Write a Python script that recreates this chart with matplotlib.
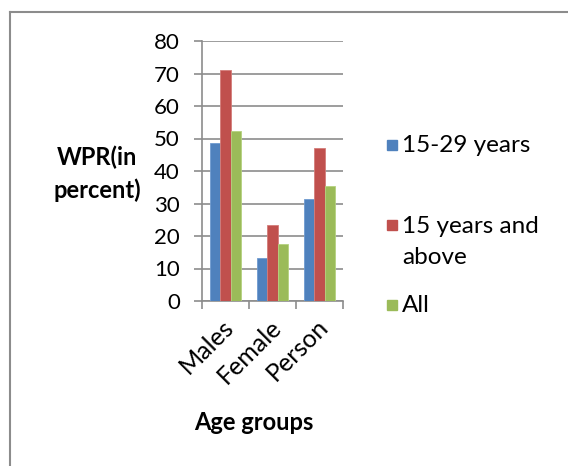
import matplotlib
matplotlib.use('Agg')
import matplotlib.pyplot as plt
import numpy as np
from matplotlib.patches import Rectangle
from matplotlib.lines import Line2D

plt.rcParams['font.family'] = ['Lato', 'DejaVu Sans']

# WPR values by age group
groups = ['Males', 'Female', 'Person']
series_names = ['15-29 years', '15 years and\nabove', 'All']
wpr_15_29 = [48.5, 13.3, 31.5]
wpr_15_above = [71.0, 23.3, 47.2]
wpr_all = [52.2, 17.6, 35.3]
yticks = [0, 10, 20, 30, 40, 50, 60, 70, 80]

colors = ['#4F81BD', '#C0504D', '#9BBB59']
edges = ['#6f9bd0', '#d47c79', '#b5d27f']

fig = plt.figure(figsize=(5.68, 4.66), dpi=100)
ax = fig.add_axes([202/568, 1 - 301/466, 141/568, 260/466])

x = np.arange(len(groups))
w = 0.222
for i, vals in enumerate([wpr_15_29, wpr_15_above, wpr_all]):
    ax.bar(x + (i - 1) * w, vals, width=w, color=colors[i],
           edgecolor=edges[i], linewidth=0.6, zorder=3)

ax.set_xlim(-0.5, 2.5)
ax.set_ylim(0, 80)
ax.set_yticks(yticks)
ax.set_yticklabels([str(t) for t in yticks], fontsize=16)
ax.yaxis.grid(True, color='#8c8c8c', linewidth=1.2)
ax.tick_params(axis='y', length=6, color='#8c8c8c', width=1.2, pad=10)

# category boundaries carry the tick marks
ax.set_xticks([-0.5, 0.5, 1.5, 2.5])
ax.set_xticklabels([])
ax.set_xticks(x + 0.1, minor=True)
ax.set_xticklabels(groups, minor=True, rotation=45, ha='right', va='center',
                   rotation_mode='anchor', fontsize=18)
ax.tick_params(axis='x', which='major', length=6, color='#8c8c8c', width=1.2)
ax.tick_params(axis='x', which='minor', length=0, pad=16)

for s in ['top', 'right']:
    ax.spines[s].set_visible(False)
for s in ['left', 'bottom']:
    ax.spines[s].set_color('#8c8c8c')
    ax.spines[s].set_linewidth(1.2)

fig.text(97/568, 1 - 174/466, 'WPR(in\npercent)', ha='center', va='center',
         fontsize=17, fontweight='bold', linespacing=1.5)
fig.text(254/568, 1 - 423/466, 'Age groups', ha='center', va='center',
         fontsize=17, fontweight='bold')

# legend drawn by hand so the swatch sits on the first text line
leg_y = [145, 225, 305]
for i, name in enumerate(series_names):
    yy = 1 - leg_y[i] / 466
    fig.add_artist(Rectangle((387/568, yy - 5/466), 10/568, 10/466,
                             transform=fig.transFigure, color=colors[i]))
    fig.text(402/568, yy + (9/466 if '\n' in name else 0), name, ha='left',
             va='top' if '\n' in name else 'center',
             fontsize=17.5, linespacing=1.6,
             transform=fig.transFigure)

# outer frame (left and top edges)
fig.add_artist(Line2D([10/568, 10/568], [0, 1 - 12/466], transform=fig.transFigure,
                      color='#8c8c8c', linewidth=1.5))
fig.add_artist(Line2D([10/568, 1], [1 - 12/466, 1 - 12/466], transform=fig.transFigure,
                      color='#8c8c8c', linewidth=1.5))

fig.savefig('out.png', dpi=100)
